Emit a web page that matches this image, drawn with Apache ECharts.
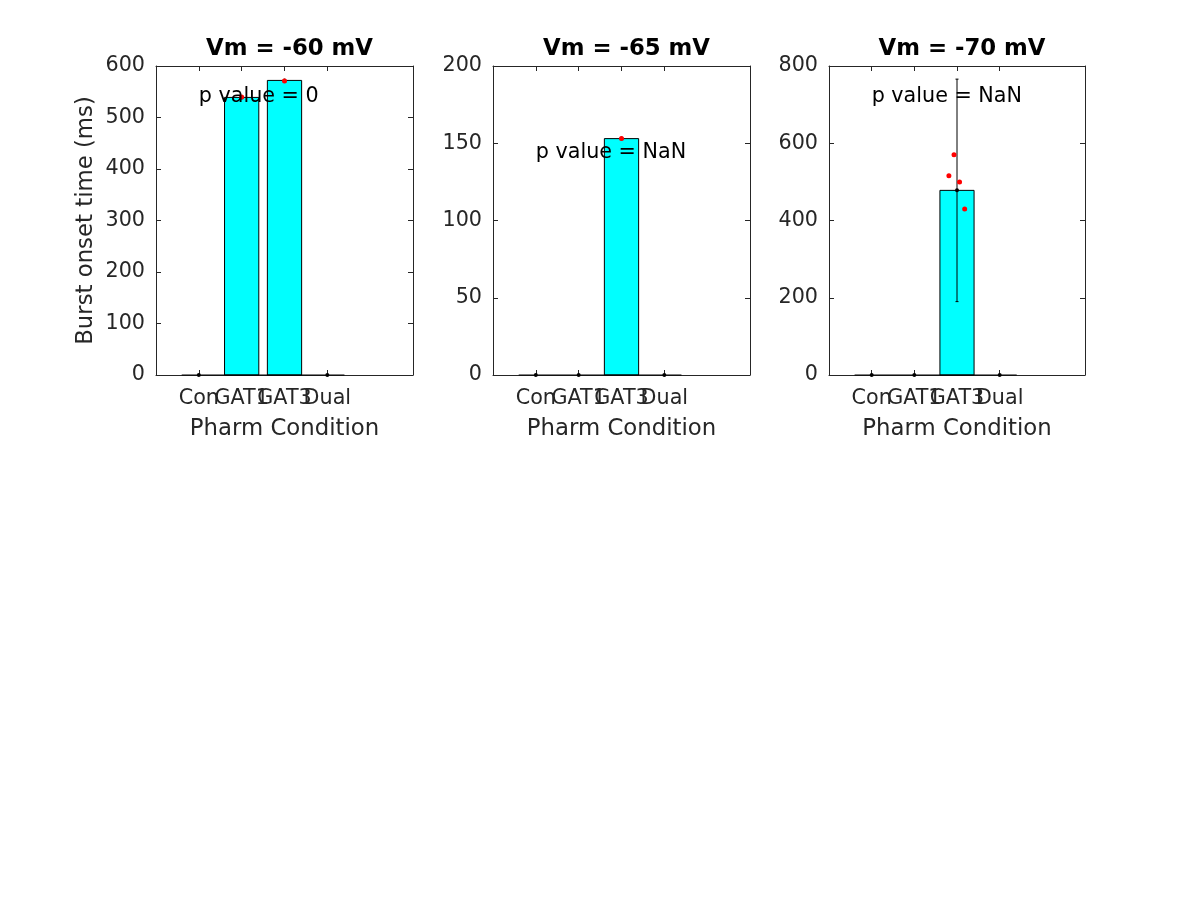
<!DOCTYPE html>
<html>
<head>
<meta charset="utf-8">
<script src="https://cdn.jsdelivr.net/npm/echarts@6/dist/echarts.min.js"></script>
<style>
  html, body { margin: 0; padding: 0; background: #fff; }
  #chart { width: 1200px; height: 900px; }
</style>
</head>
<body>
<div id="chart"></div>
<script>
// ---- data ----
const categories = ['Con', 'GAT1', 'GAT3', 'Dual'];
const categoryPositions = [1, 2, 3, 4];
const panelTitles = ['Vm = -60 mV', 'Vm = -65 mV', 'Vm = -70 mV'];
const yLabel = 'Burst onset time (ms)';
const xLabel = 'Pharm Condition';

const means60 = [0, 539, 572, 0];
const means65 = [0, 0, 153, 0];
const means70 = [0, 0, 478, 0];

const errs60 = [0, 0, 0, 0];
const errs65 = [0, 0, 0, 0];
const errs70 = [0, 0, 288, 0];

const points60 = [[2, 540], [3, 571]];
const points65 = [[3, 153]];
const points70 = [[2.93, 570], [2.81, 516], [3.06, 500], [3.18, 430]];

const pValues = ['p value = 0', 'p value = NaN', 'p value = NaN'];
const pTextX = [1, 1, 1];
const pTextY = [540, 144, 720];

const yMaxes = [600, 200, 800];
const yIntervals = [100, 50, 200];
const xMin = 0, xMax = 6;

// ---- layout / style ----
const FONT = 'DejaVu Sans';
const AX = '#262626';
const TICK_FS = 20.7;
const LABEL_FS = 22.8;
const grids = [
  { left: 156, top: 66, width: 257, height: 309 },
  { left: 493, top: 66, width: 257, height: 309 },
  { left: 829, top: 66, width: 256, height: 309 }
];
const BAR_HALF = 0.4;

const panels = [
  { means: means60, errs: errs60, points: points60 },
  { means: means65, errs: errs65, points: points65 },
  { means: means70, errs: errs70, points: points70 }
];

const option = {
  animation: false,
  backgroundColor: '#fff',
  title: [],
  grid: [],
  xAxis: [],
  yAxis: [],
  series: []
};

panels.forEach((p, i) => {
  const g = grids[i];
  option.grid.push(Object.assign({ containLabel: false }, g));
  option.title.push({
    text: panelTitles[i],
    left: g.left + g.width / 2,
    top: 33,
    textAlign: 'center',
    textStyle: { fontFamily: FONT, fontSize: LABEL_FS, fontWeight: 'bold', color: '#000' }
  });
  const xBottom = option.xAxis.length;
  option.xAxis.push({
    type: 'value', gridIndex: i, min: xMin, max: xMax, position: 'bottom',
    name: xLabel, nameLocation: 'middle', nameGap: 43,
    nameTextStyle: { fontFamily: FONT, fontSize: LABEL_FS, color: AX },
    axisLine: { show: true, onZero: false, lineStyle: { color: AX, width: 1 } },
    axisTick: { show: true, inside: true, length: 5, customValues: categoryPositions, lineStyle: { color: AX } },
    axisLabel: { show: false },
    splitLine: { show: false }
  });
  option.xAxis.push({
    type: 'value', gridIndex: i, min: xMin, max: xMax, position: 'top',
    axisLine: { show: true, onZero: false, lineStyle: { color: AX, width: 1 } },
    axisTick: { show: true, inside: true, length: 5, customValues: categoryPositions, lineStyle: { color: AX } },
    axisLabel: { show: false },
    splitLine: { show: false }
  });
  const yLeft = option.yAxis.length;
  option.yAxis.push({
    type: 'value', gridIndex: i, min: 0, max: yMaxes[i], interval: yIntervals[i], position: 'left',
    name: i === 0 ? yLabel : '', nameLocation: 'middle', nameGap: 58, nameRotate: 90,
    nameTextStyle: { fontFamily: FONT, fontSize: LABEL_FS, color: AX },
    axisLine: { show: true, onZero: false, lineStyle: { color: AX, width: 1 } },
    axisTick: { show: true, inside: true, length: 5, lineStyle: { color: AX } },
    axisLabel: { show: true, margin: 11, hideOverlap: false, showMinLabel: true, showMaxLabel: true,
      fontFamily: FONT, fontSize: TICK_FS, color: AX },
    splitLine: { show: false }
  });
  option.yAxis.push({
    type: 'value', gridIndex: i, min: 0, max: yMaxes[i], interval: yIntervals[i], position: 'right',
    axisLine: { show: true, onZero: false, lineStyle: { color: AX, width: 1 } },
    axisTick: { show: true, inside: true, length: 5, lineStyle: { color: AX } },
    axisLabel: { show: false },
    splitLine: { show: false }
  });

  // category tick labels (drawn at axis positions; MATLAB lets them overlap)
  option.series.push({
    type: 'custom', xAxisIndex: xBottom, yAxisIndex: yLeft, clip: false, silent: true,
    data: categoryPositions.map((x, k) => [x, 0, k]),
    renderItem: (params, api) => {
      const c = api.coord([api.value(0), 0]);
      return { type: 'text', x: c[0], y: c[1] + 13,
        style: { text: categories[api.value(2)], fill: AX, fontFamily: FONT, fontSize: TICK_FS,
          align: 'center', verticalAlign: 'top' } };
    }
  });
  // bars
  option.series.push({
    type: 'custom', xAxisIndex: xBottom, yAxisIndex: yLeft, clip: false,
    data: categoryPositions.map((x, k) => [x, p.means[k]]),
    renderItem: (params, api) => {
      const x = api.value(0), y = api.value(1);
      if (!y) return null;
      const a = api.coord([x - BAR_HALF, 0]);
      const b = api.coord([x + BAR_HALF, y]);
      return {
        type: 'rect',
        shape: { x: a[0], y: b[1], width: b[0] - a[0], height: a[1] - b[1] },
        style: { fill: '#00FFFF', stroke: '#000', lineWidth: 1 }
      };
    }
  });
  // baseline
  option.series.push({
    type: 'custom', xAxisIndex: xBottom, yAxisIndex: yLeft, clip: false,
    data: [[categoryPositions[0], categoryPositions[categoryPositions.length - 1]]],
    renderItem: (params, api) => {
      const a = api.coord([api.value(0) - BAR_HALF, 0]);
      const b = api.coord([api.value(1) + BAR_HALF, 0]);
      return { type: 'line', shape: { x1: a[0], y1: a[1], x2: b[0], y2: b[1] },
        style: { stroke: '#000', lineWidth: 1 } };
    }
  });
  // error bars + mean dots
  option.series.push({
    type: 'custom', xAxisIndex: xBottom, yAxisIndex: yLeft, clip: false,
    data: categoryPositions.map((x, k) => [x, p.means[k], p.errs[k]]),
    renderItem: (params, api) => {
      const x = api.value(0), m = api.value(1), e = api.value(2);
      const c = api.coord([x, m]);
      const children = [];
      if (e > 0) {
        const t = api.coord([x, m + e]);
        const bt = api.coord([x, m - e]);
        children.push({ type: 'line', shape: { x1: t[0], y1: t[1], x2: bt[0], y2: bt[1] }, style: { stroke: '#000', lineWidth: 1 } });
        children.push({ type: 'line', shape: { x1: t[0] - 1.5, y1: t[1], x2: t[0] + 1.5, y2: t[1] }, style: { stroke: '#000', lineWidth: 1 } });
        children.push({ type: 'line', shape: { x1: bt[0] - 1.5, y1: bt[1], x2: bt[0] + 1.5, y2: bt[1] }, style: { stroke: '#000', lineWidth: 1 } });
      }
      children.push({ type: 'circle', shape: { cx: c[0], cy: c[1], r: 2 }, style: { fill: '#000' } });
      return { type: 'group', children };
    }
  });
  // individual points
  option.series.push({
    type: 'scatter', xAxisIndex: xBottom, yAxisIndex: yLeft,
    data: p.points, symbol: 'circle', symbolSize: 5,
    itemStyle: { color: '#FF0000', opacity: 1 }, z: 5
  });
  // p value text
  option.series.push({
    type: 'custom', xAxisIndex: xBottom, yAxisIndex: yLeft, clip: false, z: 6,
    data: [[pTextX[i], pTextY[i]]],
    renderItem: (params, api) => {
      const c = api.coord([api.value(0), api.value(1)]);
      return { type: 'text', x: c[0], y: c[1],
        style: { text: pValues[i], fill: '#000', fontFamily: FONT, fontSize: TICK_FS, align: 'left', verticalAlign: 'middle' } };
    }
  });
});

const chart = echarts.init(document.getElementById('chart'), null, { renderer: 'canvas' });
chart.setOption(option);
</script>
</body>
</html>
